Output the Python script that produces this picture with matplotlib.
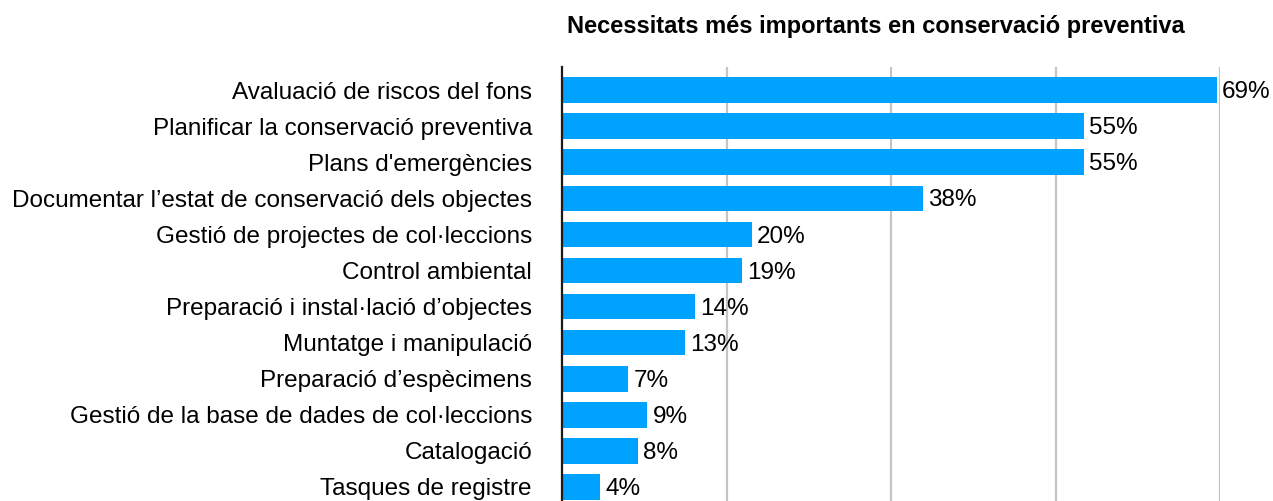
import matplotlib.pyplot as plt
import numpy as np

categories = [
    'Avaluació de riscos del fons',
    'Planificar la conservació preventiva',
    "Plans d'emergències",
    'Documentar l\u2019estat de conservació dels objectes',
    'Gestió de projectes de col\u00b7leccions',
    'Control ambiental',
    'Preparació i instal\u00b7lació d\u2019objectes',
    'Muntatge i manipulació',
    'Preparació d\u2019espècimens',
    'Gestió de la base de dades de col\u00b7leccions',
    'Catalogació',
    'Tasques de registre',
]
values = [69, 55, 55, 38, 20, 19, 14, 13, 7, 9, 8, 4]
title = 'Necessitats més importants en conservació preventiva'

# axis max sits just above the largest bar, four evenly spaced gridlines
x_max = 69.33
grid_ticks = np.linspace(0, x_max, 5)[1:]

plt.rcParams['font.family'] = ['Liberation Sans', 'DejaVu Sans']

fig = plt.figure(figsize=(12.73, 5.01), dpi=100)
ax = fig.add_axes([562 / 1273, 0, 658 / 1273, 1 - 67 / 501])

y = np.arange(len(categories))
ax.barh(y, values, height=0.71, color='#00A2FF', zorder=2)
for yi, v in zip(y, values):
    ax.text(v + 0.55, yi + 0.06, f'{v}%', va='center', ha='left', fontsize=17.5, color='black')

ax.set_xlim(0, x_max)
ax.set_ylim(len(categories) - 1 + 0.39, -0.64)
ax.set_yticks(y)
ax.set_yticklabels(categories, fontsize=17.5)
ax.tick_params(axis='y', length=0, pad=21.6)
ax.set_xticks(grid_ticks)
ax.tick_params(axis='x', length=0, labelbottom=False)
ax.grid(axis='x', color='#c4c4c4', linewidth=1.6, zorder=0)
ax.set_axisbelow(True)
for s in ['top', 'right', 'bottom']:
    ax.spines[s].set_visible(False)
ax.spines['left'].set_linewidth(1.6)
ax.spines['left'].set_color('#1a1a1a')

fig.text(876 / 1273, 1 - 26 / 501, title, ha='center', va='center',
         fontsize=17, fontweight='bold')

fig.savefig('out.png', dpi=100)
